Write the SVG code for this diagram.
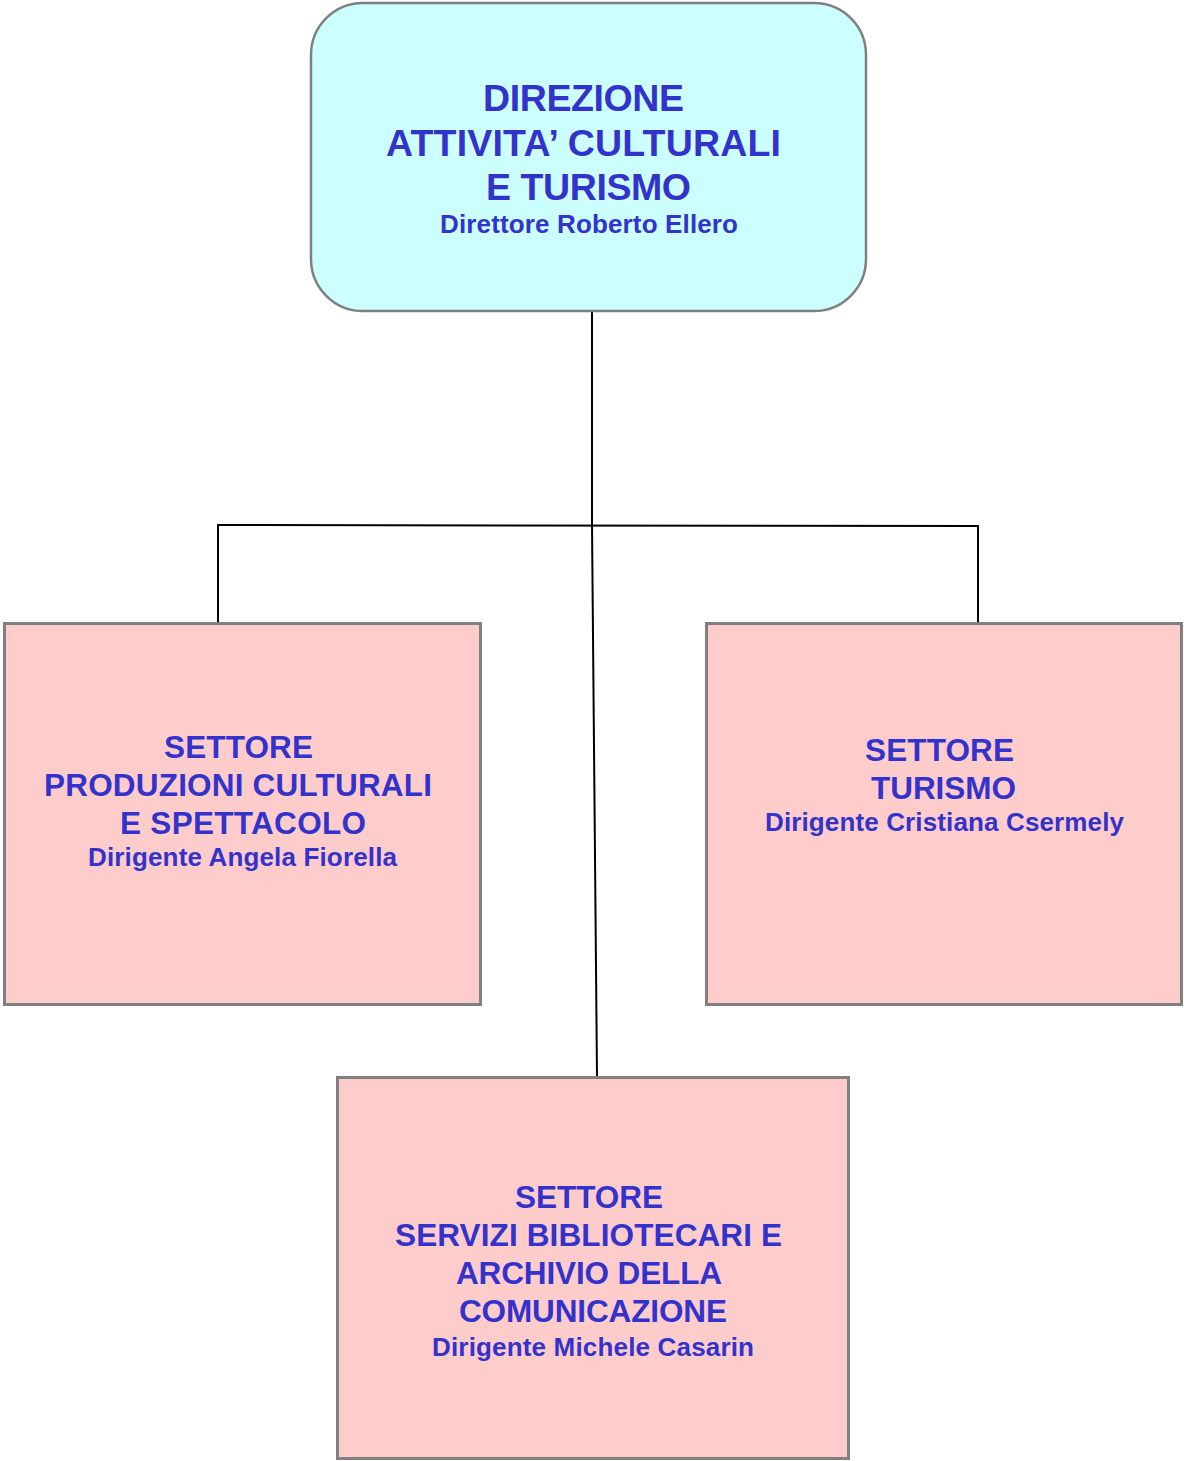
<svg xmlns="http://www.w3.org/2000/svg" width="1184" height="1461" viewBox="0 0 1184 1461">
<style>
.t{font-family:"Liberation Sans",Arial,sans-serif;font-weight:bold;fill:#3333CC;text-anchor:middle}
.h1{font-size:37.5px}
.h2{font-size:31.5px}
.s1{font-size:26px}
.s2{font-size:26px}
.box{fill:#FFCCCC;stroke:#808080;stroke-width:3}
.conn{fill:none;stroke:#000;stroke-width:2}
</style>
<rect width="1184" height="1461" fill="#fff"/>
<g id="connectors">
<polyline class="conn" points="592,311 592,525"/>
<polyline class="conn" points="218,623 218,525 978,526 978,623"/>
<polyline class="conn" points="592,525 597,1077"/>
</g>
<g id="direzione">
<rect x="311" y="3" width="555" height="308" rx="52" ry="52" fill="#CCFFFF" stroke="#808080" stroke-width="2.5"/>
<text class="t h1" x="583.5" y="111" textLength="201">DIREZIONE</text>
<text class="t h1" x="583.5" y="156" textLength="395">ATTIVITA’ CULTURALI</text>
<text class="t h1" x="588.5" y="200" textLength="205">E TURISMO</text>
<text class="t s1" x="589" y="233" textLength="298">Direttore Roberto Ellero</text>
</g>
<g id="produzioni">
<rect class="box" x="4.5" y="623.5" width="476" height="381"/>
<text class="t h2" x="238.5" y="758" textLength="149">SETTORE</text>
<text class="t h2" x="238" y="796" textLength="388">PRODUZIONI CULTURALI</text>
<text class="t h2" x="243" y="834" textLength="246">E SPETTACOLO</text>
<text class="t s2" x="242.5" y="866" textLength="309">Dirigente Angela Fiorella</text>
</g>
<g id="turismo">
<rect class="box" x="706.5" y="623.5" width="475" height="381"/>
<text class="t h2" x="939.5" y="761" textLength="149">SETTORE</text>
<text class="t h2" x="943.5" y="799" textLength="145">TURISMO</text>
<text class="t s2" x="944.5" y="831" textLength="359">Dirigente Cristiana Csermely</text>
</g>
<g id="biblioteche">
<rect class="box" x="337.5" y="1077.5" width="511" height="381"/>
<text class="t h2" x="589" y="1208" textLength="148">SETTORE</text>
<text class="t h2" x="588.5" y="1246" textLength="387">SERVIZI BIBLIOTECARI E</text>
<text class="t h2" x="589" y="1284" textLength="266">ARCHIVIO DELLA</text>
<text class="t h2" x="593" y="1322" textLength="268">COMUNICAZIONE</text>
<text class="t s2" x="593" y="1356" textLength="322">Dirigente Michele Casarin</text>
</g>
</svg>
